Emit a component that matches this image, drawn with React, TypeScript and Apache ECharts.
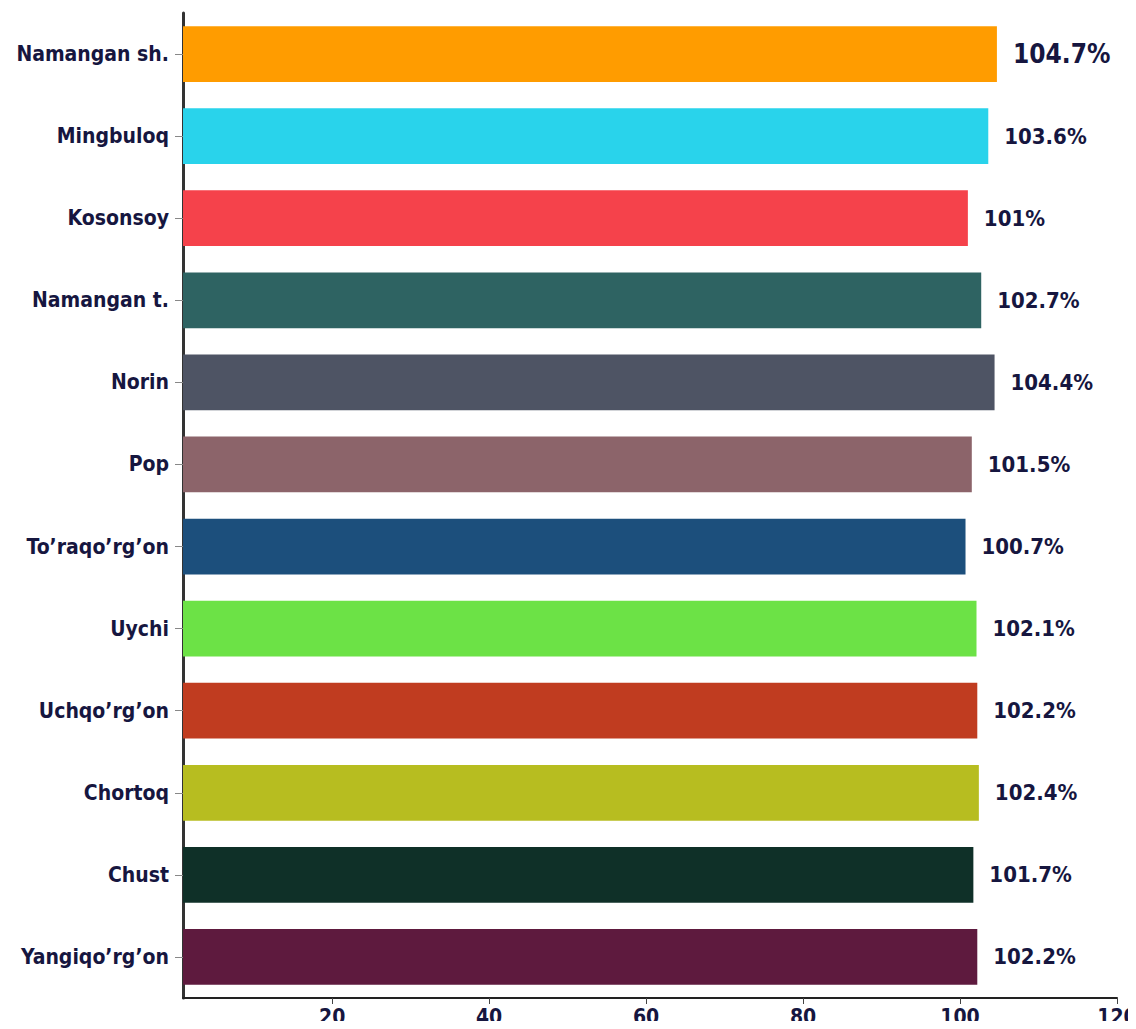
import React, { useEffect, useRef } from "react";
import * as echarts from "echarts";

const categories = [
  "Namangan sh.",
  "Mingbuloq",
  "Kosonsoy",
  "Namangan t.",
  "Norin",
  "Pop",
  "To\u2019raqo\u2019rg\u2019on",
  "Uychi",
  "Uchqo\u2019rg\u2019on",
  "Chortoq",
  "Chust",
  "Yangiqo\u2019rg\u2019on",
];
const values = [104.7, 103.6, 101, 102.7, 104.4, 101.5, 100.7, 102.1, 102.2, 102.4, 101.7, 102.2];
const colors = [
  "#FF9C00",
  "#29D3EB",
  "#F5424B",
  "#2E6362",
  "#4E5464",
  "#8C646A",
  "#1C4F7C",
  "#6CE246",
  "#C03C20",
  "#B7BD20",
  "#0F3028",
  "#5E1A3E",
];

const FONT = "'DejaVu Sans Condensed', 'DejaVu Sans', sans-serif";
const TEXT = "#16163F";

export default function App() {
  const ref = useRef<HTMLDivElement>(null);
  useEffect(() => {
    if (!ref.current) return;
    const chart = echarts.init(ref.current, null, { renderer: "svg" });
    chart.setOption({
      animation: false,
      grid: {
        left: 175,
        right: 19,
        top: 5,
        bottom: 31,
        containLabel: false,
        outerBoundsMode: "none",
      },
      xAxis: {
        type: "value",
        min: 1,
        max: 120,
        splitLine: { show: false },
        axisLine: { show: true, lineStyle: { color: "#222", width: 2 } },
        axisTick: { show: true, length: 6, lineStyle: { color: "#444", width: 1 } },
        axisLabel: {
          showMinLabel: false,
          color: TEXT,
          fontFamily: FONT,
          fontWeight: "bold",
          fontSize: 21,
          lineHeight: 20,
          margin: 9,
        },
      },
      yAxis: {
        type: "category",
        data: categories,
        inverse: true,
        axisLine: { show: true, lineStyle: { color: "#333", width: 3 } },
        axisTick: { show: true, alignWithLabel: true, length: 8, lineStyle: { color: "#888" } },
        axisLabel: {
          color: TEXT,
          fontFamily: FONT,
          fontWeight: "bold",
          fontSize: 21,
          margin: 14,
        },
      },
      series: [
        {
          type: "bar",
          barWidth: "68%",
          data: values.map((v, i) => ({
            value: v,
            itemStyle: { color: colors[i] },
            label: i === 0 ? { fontSize: 26 } : undefined,
          })),
          label: {
            show: true,
            position: "right",
            distance: 16,
            formatter: (p: any) => `${p.value}%`,
            color: TEXT,
            fontFamily: FONT,
            fontWeight: "bold",
            fontSize: 22,
          },
        },
      ],
    });
    return () => chart.dispose();
  }, []);
  return (
    <div
      ref={ref}
      style={{ width: 1128, height: 1021, marginBottom: -8, marginRight: -8 }}
    />
  );
}
